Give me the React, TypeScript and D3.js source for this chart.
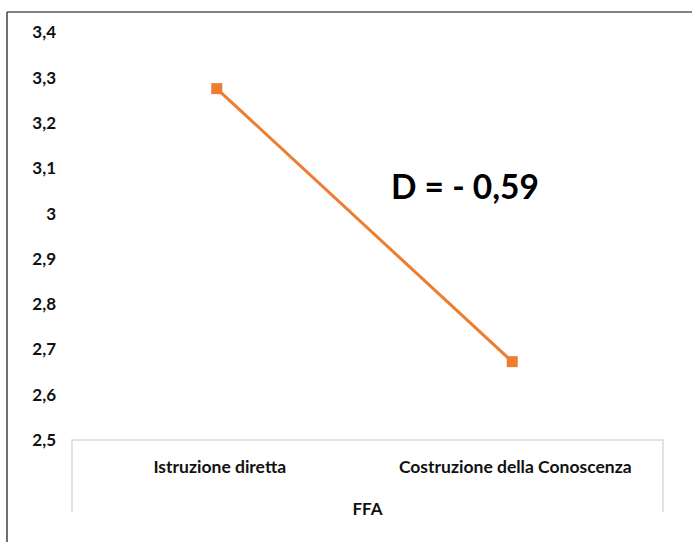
import React from "react";
import * as d3 from "d3";

const categories = ["Istruzione diretta", "Costruzione della Conoscenza"];
const values = [3.276, 2.673];
const yTicks = [2.5, 2.6, 2.7, 2.8, 2.9, 3.0, 3.1, 3.2, 3.3, 3.4];
const axisTitle = "FFA";
const annotation = "D = - 0,59";

const W = 692;
const H = 542;
const FONT = "Lato, 'Open Sans', sans-serif";

export default function App() {
  const x = d3.scaleBand<string>().domain(categories).range([72, 663]);
  const y = d3.scaleLinear().domain([2.5, 3.4]).range([440, 32.5]);
  const fmt = (v: number) => (Math.round(v * 10) / 10).toString().replace(".", ",");
  const cx = (c: string) => (x(c) as number) + x.bandwidth() / 2 - 3;
  const line = d3
    .line<number>()
    .x((_, i) => cx(categories[i]))
    .y((d) => y(d));
  const ms = 11;
  return (
    <svg
      width={W}
      height={H}
      style={{ position: "absolute", left: 0, top: 0, background: "#fff" }}
    >
      <rect x={0} y={0} width={W} height={H} fill="#fff" />
      {/* outer frame */}
      <line x1={7} y1={12} x2={W} y2={12} stroke="#595959" strokeWidth={1.5} />
      <line x1={7} y1={12} x2={7} y2={H} stroke="#404040" strokeWidth={1.5} />
      {/* y tick labels */}
      {yTicks.map((t) => (
        <text
          key={t}
          x={56}
          y={y(t)}
          dy="0.35em"
          textAnchor="end"
          fontFamily={FONT}
          fontWeight="bold"
          fontSize={17}
          fill="#111"
        >
          {fmt(t)}
        </text>
      ))}
      {/* category table */}
      <path
        d={`M72,512 V440 H663 V512`}
        fill="none"
        stroke="#d9d9d9"
        strokeWidth={1.5}
      />
      {categories.map((c) => (
        <text
          key={c}
          x={(x(c) as number) + x.bandwidth() / 2}
          y={467}
          dy="0.35em"
          textAnchor="middle"
          fontFamily={FONT}
          fontWeight="bold"
          fontSize={17.5}
          fill="#111"
        >
          {c}
        </text>
      ))}
      <text
        x={(72 + 663) / 2}
        y={509}
        dy="0.35em"
        textAnchor="middle"
        fontFamily={FONT}
        fontWeight="bold"
        fontSize={17}
        fill="#111"
      >
        {axisTitle}
      </text>
      {/* series */}
      <path d={line(values) || ""} fill="none" stroke="#ED7D31" strokeWidth={3} />
      {values.map((v, i) => (
        <rect
          key={i}
          x={cx(categories[i]) - ms / 2}
          y={y(v) - ms / 2}
          width={ms}
          height={ms}
          fill="#ED7D31"
        />
      ))}
      <text
        x={391}
        y={199}
        fontFamily={FONT}
        fontWeight="bold"
        fontSize={33.5}
        fill="#000"
      >
        {annotation}
      </text>
    </svg>
  );
}
